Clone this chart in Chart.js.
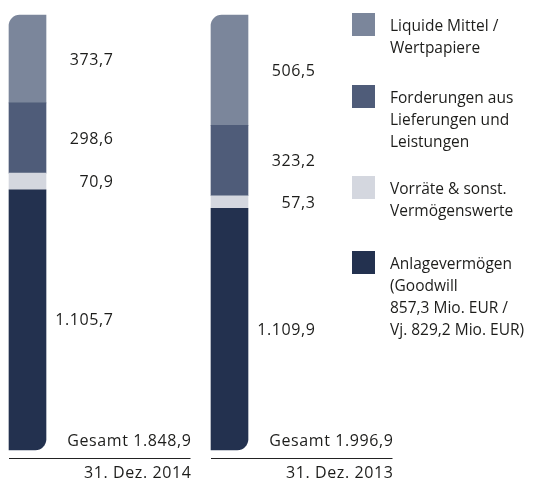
<!DOCTYPE html>
<html>
<head>
<meta charset="utf-8">
<script src="https://cdn.jsdelivr.net/npm/chart.js@4"></script>
<style>
  html, body { margin: 0; padding: 0; background: #fff; }
  #wrap { width: 538px; height: 484px; position: relative; }
</style>
</head>
<body>
<div id="wrap"><canvas id="chart"></canvas></div>
<script>
const dates = ['31. Dez. 2014', '31. Dez. 2013'];
const totals = ['1.848,9', '1.996,9'];
const seriesNames = [
  ['Liquide Mittel /', 'Wertpapiere'],
  ['Forderungen aus', 'Lieferungen und', 'Leistungen'],
  ['Vorräte & sonst.', 'Vermögenswerte'],
  ['Anlagevermögen', '(Goodwill', '857,3 Mio. EUR /', 'Vj. 829,2 Mio. EUR)']
];
// bottom to top in the stack
const anlage = [1105.7, 1109.9];
const vorraete = [70.9, 57.3];
const forderungen = [298.6, 323.2];
const liquide = [373.7, 506.5];

const COLORS = ['#7b869b', '#4f5c79', '#d4d7df', '#23314f'];
const FONT = '16px "Open Sans", sans-serif';
const LEGEND_FONT = '15.5px "Open Sans", sans-serif';
const TEXT = '#1d1d1b';

const sums = dates.map((_, i) => anlage[i] + vorraete[i] + forderungen[i] + liquide[i]);
const share = arr => arr.map((v, i) => v / sums[i] * 100);
const fmt = v => v.toLocaleString('de-DE', { minimumFractionDigits: 1, maximumFractionDigits: 1 });

const stack = [
  { raw: anlage, color: COLORS[3], radius: { topLeft: 0, topRight: 0, bottomLeft: 0, bottomRight: 11 } },
  { raw: vorraete, color: COLORS[2], radius: 0 },
  { raw: forderungen, color: COLORS[1], radius: 0 },
  { raw: liquide, color: COLORS[0], radius: { topLeft: 11, topRight: 0, bottomLeft: 0, bottomRight: 0 } }
];

const annotate = {
  id: 'annotate',
  afterDatasetsDraw(chart) {
    const ctx = chart.ctx;
    ctx.save();
    ctx.font = FONT;
    ctx.letterSpacing = '0.6px';
    ctx.fillStyle = TEXT;
    // value labels next to each segment
    chart.data.datasets.forEach((ds, di) => {
      chart.getDatasetMeta(di).data.forEach((bar, i) => {
        ctx.textAlign = 'right';
        ctx.textBaseline = 'middle';
        ctx.fillText(fmt(ds.raw[i]), bar.x + 86, (bar.y + bar.base) / 2 + 1);
      });
    });
    // totals, baseline and date
    const bottom = chart.scales.y.getPixelForValue(0);
    chart.getDatasetMeta(0).data.forEach((bar, i) => {
      const right = bar.x + 163;
      ctx.textAlign = 'right';
      ctx.textBaseline = 'middle';
      ctx.fillText('Gesamt ' + totals[i], right + 1, bottom - 9);
      ctx.fillText(dates[i], right + 1, bottom + 23);
      ctx.strokeStyle = '#222';
      ctx.lineWidth = 1;
      ctx.beginPath();
      ctx.moveTo(bar.x - bar.width / 2, bottom + 8.5);
      ctx.lineTo(right, bottom + 8.5);
      ctx.stroke();
    });
    // legend
    ctx.font = LEGEND_FONT;
    ctx.letterSpacing = '0px';
    const legendTop = [13, 85, 176, 251];
    [0, 1, 2, 3].forEach(k => {
      ctx.fillStyle = COLORS[k];
      ctx.fillRect(352, legendTop[k], 23, 23);
      ctx.fillStyle = TEXT;
      ctx.textAlign = 'left';
      ctx.textBaseline = 'middle';
      seriesNames[k].forEach((line, j) => ctx.fillText(line, 390, legendTop[k] + 14 + j * 22));
    });
    ctx.restore();
  }
};

new Chart(document.getElementById('chart'), {
  type: 'bar',
  data: {
    labels: dates,
    datasets: stack.map(s => ({
      data: share(s.raw),
      raw: s.raw,
      backgroundColor: s.color,
      borderWidth: 0,
      borderRadius: s.radius,
      borderSkipped: false,
      barThickness: 37,
      clip: false
    }))
  },
  options: {
    responsive: true,
    maintainAspectRatio: false,
    animation: false,
    layout: { padding: { left: 27.5, right: 308.5, top: 15, bottom: 34 } },
    plugins: { legend: { display: false }, tooltip: { enabled: false } },
    scales: {
      x: { stacked: true, offset: false, display: false },
      y: { stacked: true, min: 0, max: 100, display: false }
    }
  },
  plugins: [annotate]
});
</script>
</body>
</html>
